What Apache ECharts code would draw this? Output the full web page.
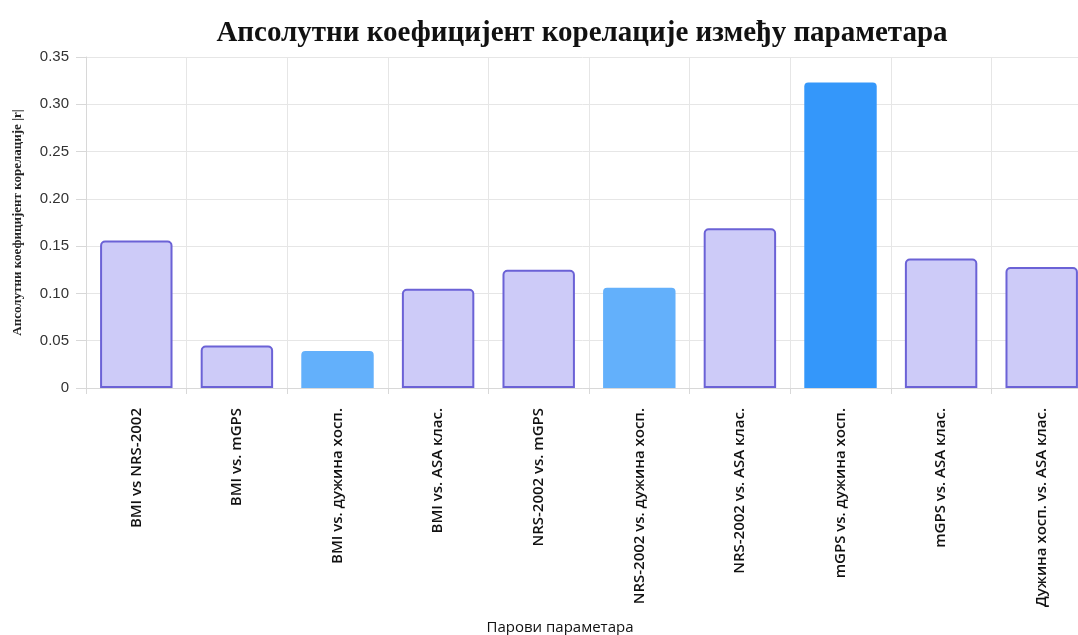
<!DOCTYPE html>
<html><head><meta charset="utf-8">
<script src="https://cdn.jsdelivr.net/npm/echarts@6/dist/echarts.min.js"></script>
<style>html,body{margin:0;padding:0;background:#fff}#c{width:1078px;height:635px}</style>
</head><body><div id="c"></div>
<script>
const categories = ["BMI vs NRS-2002","BMI vs. mGPS","BMI vs. дужина хосп.","BMI vs. ASA клас.","NRS-2002 vs. mGPS","NRS-2002 vs. дужина хосп.","NRS-2002 vs. ASA клас.","mGPS vs. дужина хосп.","mGPS vs. ASA клас.","Дужина хосп. vs. ASA клас."];
const values = [0.156, 0.045, 0.039, 0.105, 0.125, 0.106, 0.169, 0.323, 0.137, 0.128];
const barKinds = ["lav","lav","light","lav","lav","light","lav","dark","lav","lav"];
const yTicks = ["0","0.05","0.10","0.15","0.20","0.25","0.30","0.35"];

const styles = {
  lav: {color:'#cdcbf8', borderColor:'#6b62d6', borderWidth:2, borderRadius:[4,4,0,0]},
  light: {color:'#63b0fb', borderColor:'#63b0fb', borderWidth:0, borderRadius:[4,4,0,0]},
  dark: {color:'#3497fa', borderColor:'#3497fa', borderWidth:0, borderRadius:[4,4,0,0]}
};
const chart = echarts.init(document.getElementById('c'));
chart.setOption({
  animation:false,
  title:{text:'Апсолутни коефицијент корелације између параметара', left:577, top:14, textAlign:'center',
    textStyle:{fontFamily:'Liberation Serif', fontWeight:'bold', fontSize:29, color:'#111'}},
  grid:{left:86, width:1006, top:57, height:331, containLabel:false, outerBoundsMode:'none'},
  xAxis:{type:'category', data:categories,
    name:'Парови параметара', nameLocation:'middle', nameGap:232,
    nameTextStyle:{fontFamily:'Open Sans', fontSize:15, color:'#111', padding:[0,58,0,0]},
    axisLine:{lineStyle:{color:'#d8d8d8'}},
    axisTick:{show:true, length:6, lineStyle:{color:'#d8d8d8'}},
    splitLine:{show:true, lineStyle:{color:'#e6e6e6'}},
    axisLabel:{rotate:90, interval:0, margin:20, fontFamily:'Open Sans', fontWeight:600, fontSize:15, color:'#111'}},
  yAxis:{type:'value', min:0, max:0.35, interval:0.05,
    name:'Апсолутни коефицијент корелације |r|', nameLocation:'middle', nameGap:62,
    nameTextStyle:{fontFamily:'Liberation Serif', fontWeight:'bold', fontSize:13, color:'#222'},
    axisLine:{show:true, lineStyle:{color:'#d8d8d8'}},
    axisTick:{show:true, length:10, lineStyle:{color:'#d8d8d8'}},
    splitLine:{lineStyle:{color:'#e6e6e6'}},
    axisLabel:{margin:17, fontFamily:'Liberation Sans', fontSize:15, color:'#333',
      formatter:(v)=>{const i=Math.round(v/0.05); return yTicks[i]!==undefined?yTicks[i]:String(v);}}},
  series:[{type:'bar', barWidth:'72%',
    data: values.map((v,i)=>({value:v, itemStyle:styles[barKinds[i]]}))}]
});
</script></body></html>
